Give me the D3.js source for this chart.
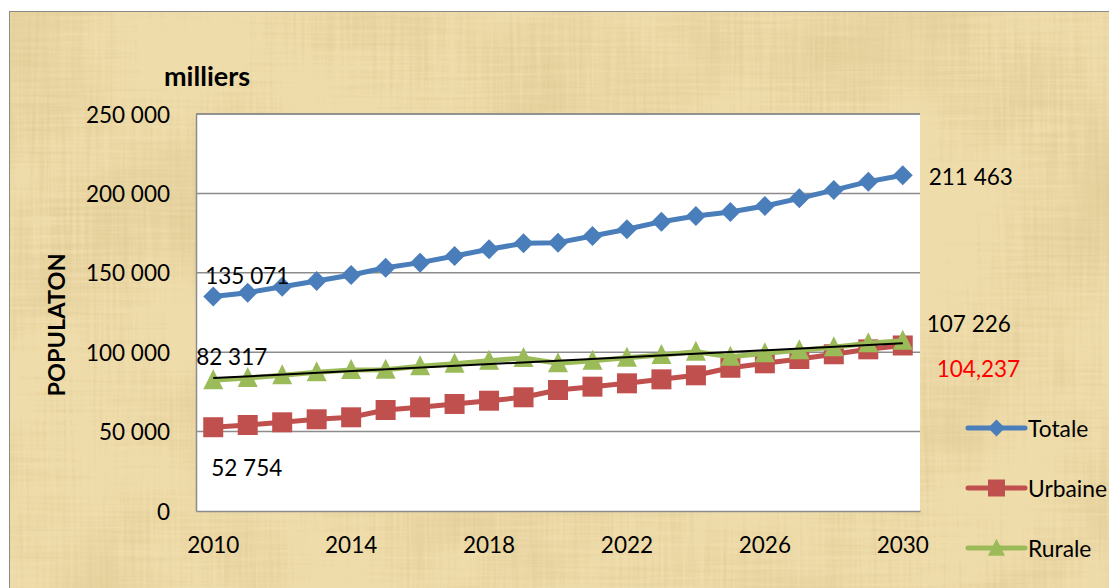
<!DOCTYPE html>
<html>
<head>
<meta charset="utf-8">
<script src="https://cdn.jsdelivr.net/npm/d3@7"></script>
<style>
  html, body { margin: 0; padding: 0; background: #fff; }
  svg { display: block; }
  text { font-family: Lato, "Open Sans", sans-serif; }
</style>
</head>
<body>
<svg id="chart" width="1109" height="588"></svg>
<script>
// Population projection, thousands of inhabitants
const years = [2010, 2011, 2012, 2013, 2014, 2015, 2016, 2017, 2018, 2019, 2020,
               2021, 2022, 2023, 2024, 2025, 2026, 2027, 2028, 2029, 2030];
const totale  = [135071, 137500, 141200, 144800, 148600, 153200, 156400, 160600, 164800, 168600, 169000,
                 173200, 177400, 182200, 185800, 188300, 192100, 196900, 202100, 207400, 211463];
const urbaine = [52754, 54150, 55850, 57750, 59000, 63600, 65300, 67400, 69450, 71600, 76200,
                 78300, 80400, 82900, 85450, 90200, 93000, 95700, 98700, 101800, 104237];
const rurale  = [82317, 83750, 85450, 87340, 88800, 89000, 91100, 92750, 94600, 96350, 93000,
                 94650, 96550, 98250, 100300, 97150, 99300, 101200, 103100, 105600, 107226];
const yTicks = [0, 50000, 100000, 150000, 200000, 250000];
const xTickYears = [2010, 2014, 2018, 2022, 2026, 2030];
const seriesNames = ["Totale", "Urbaine", "Rurale"];

const svg = d3.select("#chart");
const W = 1109, H = 588;

// ---- parchment background ----
const defs = svg.append("defs");
const f = defs.append("filter").attr("id", "paper")
  .attr("x", 0).attr("y", 0).attr("width", "100%").attr("height", "100%");
f.append("feTurbulence").attr("type", "fractalNoise")
  .attr("baseFrequency", "0.3 0.01").attr("numOctaves", 2).attr("seed", 3).attr("result", "vert");
f.append("feTurbulence").attr("type", "fractalNoise")
  .attr("baseFrequency", "0.01 0.3").attr("numOctaves", 2).attr("seed", 7).attr("result", "horz");
f.append("feTurbulence").attr("type", "fractalNoise")
  .attr("baseFrequency", "0.007").attr("numOctaves", 3).attr("seed", 11).attr("result", "blot");
f.append("feComposite").attr("in", "vert").attr("in2", "horz")
  .attr("operator", "arithmetic").attr("k2", 0.5).attr("k3", 0.5).attr("result", "weave");
f.append("feComposite").attr("in", "weave").attr("in2", "blot")
  .attr("operator", "arithmetic").attr("k2", 0.5).attr("k3", 0.5).attr("result", "mix");
f.append("feColorMatrix").attr("in", "mix").attr("type", "matrix")
  .attr("values", "0 0 0 0 0.62  0 0 0 0 0.48  0 0 0 0 0.2  1.6 0 0 0 -0.68")
  .attr("result", "shade");
f.append("feComposite").attr("in", "shade").attr("in2", "SourceGraphic").attr("operator", "in");

svg.append("rect").attr("x", 9.5).attr("y", 11.5).attr("width", W).attr("height", H)
  .attr("fill", "#efdcab").attr("stroke", "#8a8a8a").attr("stroke-width", 1);
svg.append("rect").attr("x", 10).attr("y", 12).attr("width", W).attr("height", H)
  .attr("fill", "#efdcab").attr("filter", "url(#paper)").attr("opacity", 0.85);

// ---- plot area ----
const plot = { left: 196, top: 114, right: 920, bottom: 511 };
const x = d3.scaleBand().domain(years).range([plot.left, plot.right]);
const cx = d => x(d) + x.bandwidth() / 2;
const y = d3.scaleLinear().domain([0, 250000]).range([plot.bottom, plot.top]);

const fr = d3.formatLocale({ decimal: ",", thousands: "\u00a0", grouping: [3], currency: ["", ""] });
const fmtSpace = fr.format(",d");
const fmtComma = d3.format(",d");

svg.append("rect").attr("x", plot.left).attr("y", plot.top)
  .attr("width", plot.right - plot.left).attr("height", plot.bottom - plot.top).attr("fill", "#fff");

// horizontal gridlines
svg.append("g").selectAll("line").data(yTicks.slice(1)).join("line")
  .attr("x1", plot.left).attr("x2", plot.right)
  .attr("y1", d => y(d)).attr("y2", d => y(d))
  .attr("stroke", "#8c8c8c").attr("stroke-width", 1.5);

// y axis
const yAxis = svg.append("g").attr("transform", `translate(${plot.left},0)`)
  .call(d3.axisLeft(y).tickValues(yTicks).tickSize(0).tickPadding(26).tickFormat(fmtSpace));
yAxis.select(".domain").attr("stroke", "#8c8c8c").attr("stroke-width", 1.5);
yAxis.selectAll("text").attr("font-size", 22.5).attr("fill", "#000").attr("dy", "0.36em")
  .attr("font-family", "Lato, sans-serif");

// x axis
const xAxis = svg.append("g").attr("transform", `translate(0,${plot.bottom})`)
  .call(d3.axisBottom(x).tickValues(xTickYears).tickSize(0).tickPadding(26));
xAxis.select(".domain").attr("stroke", "#8c8c8c").attr("stroke-width", 1.5);
xAxis.selectAll("text").attr("font-size", 22.5).attr("fill", "#000")
  .attr("font-family", "Lato, sans-serif");

// top border of the plot area
svg.append("line").attr("x1", plot.left).attr("x2", plot.right)
  .attr("y1", plot.top).attr("y2", plot.top)
  .attr("stroke", "#8c8c8c").attr("stroke-width", 1.5);

// ---- series ----
const colors = { Totale: "#4a7ebb", Urbaine: "#c0504d", Rurale: "#9bbb59" };
const series = [
  { name: "Totale", values: totale, shape: "diamond" },
  { name: "Urbaine", values: urbaine, shape: "square" },
  { name: "Rurale", values: rurale, shape: "triangle" }
];
const line = d3.line().x((d, i) => cx(years[i])).y(d => y(d));

function markerPath(s) {
  if (s.shape === "diamond") return "M0,-10L10,0L0,10L-10,0Z";
  if (s.shape === "triangle") return "M0,-11L10,9L-10,9Z";
  return "M-10,-10H10V10H-10Z";
}

series.forEach(s => {
  const g = svg.append("g");
  g.append("path").datum(s.values).attr("d", line)
    .attr("fill", "none").attr("stroke", colors[s.name]).attr("stroke-width", 5)
    .attr("stroke-linejoin", "round");
  g.selectAll("path.m").data(s.values).join("path").attr("class", "m")
    .attr("transform", (d, i) => `translate(${cx(years[i])},${y(d)})`)
    .attr("d", markerPath(s)).attr("fill", colors[s.name]);
});

// linear trend of the rural population
const idx = years.map((d, i) => i);
const n = idx.length;
const mx = d3.mean(idx), my = d3.mean(rurale);
const slope = d3.sum(idx, i => (i - mx) * (rurale[i] - my)) / d3.sum(idx, i => (i - mx) ** 2);
const icpt = my - slope * mx;
svg.append("line")
  .attr("x1", cx(years[0])).attr("y1", y(icpt))
  .attr("x2", cx(years[n - 1])).attr("y2", y(icpt + slope * (n - 1)))
  .attr("stroke", "#000").attr("stroke-width", 2);

// ---- data labels ----
const last = n - 1;
const labels = [
  { v: totale[0],     i: 0,    dx: -8,  dy: -12.5, fmt: fmtSpace, color: "#000" },
  { v: rurale[0],     i: 0,    dx: -17, dy: -15,   fmt: fmtSpace, color: "#000" },
  { v: urbaine[0],    i: 0,    dx: -2,  dy: 48.5,  fmt: fmtSpace, color: "#000" },
  { v: totale[last],  i: last, dx: 26,  dy: 9.5,   fmt: fmtSpace, color: "#000" },
  { v: rurale[last],  i: last, dx: 24,  dy: -8.5,  fmt: fmtSpace, color: "#000" },
  { v: urbaine[last], i: last, dx: 34,  dy: 32,    fmt: fmtComma, color: "#ff0000" }
];
svg.append("g").selectAll("text").data(labels).join("text")
  .attr("x", d => cx(years[d.i]) + d.dx)
  .attr("y", d => y(d.v) + d.dy)
  .attr("font-size", 22.5).attr("fill", d => d.color)
  .text(d => d.fmt(d.v));

// ---- titles ----
svg.append("text").attr("x", 164).attr("y", 86)
  .attr("font-size", 27).attr("font-weight", "bold").text("milliers");
svg.append("text")
  .attr("transform", "translate(65,325) rotate(-90)")
  .attr("text-anchor", "middle")
  .attr("font-size", 23.5).attr("font-weight", "bold").text("POPULATON");

// ---- legend ----
const legend = svg.append("g").selectAll("g").data(series).join("g")
  .attr("transform", (d, i) => `translate(968,${428 + i * 60})`);
legend.append("line").attr("x1", 0).attr("x2", 57).attr("y1", 0).attr("y2", 0)
  .attr("stroke", d => colors[d.name]).attr("stroke-width", 5).attr("stroke-linecap", "round");
legend.append("path").attr("transform", "translate(28.5,0) scale(0.85)")
  .attr("d", d => markerPath(d)).attr("fill", d => colors[d.name]);
legend.append("text").attr("x", 60).attr("y", 8.5)
  .attr("font-size", 22.8).text(d => d.name);
</script>
</body>
</html>
